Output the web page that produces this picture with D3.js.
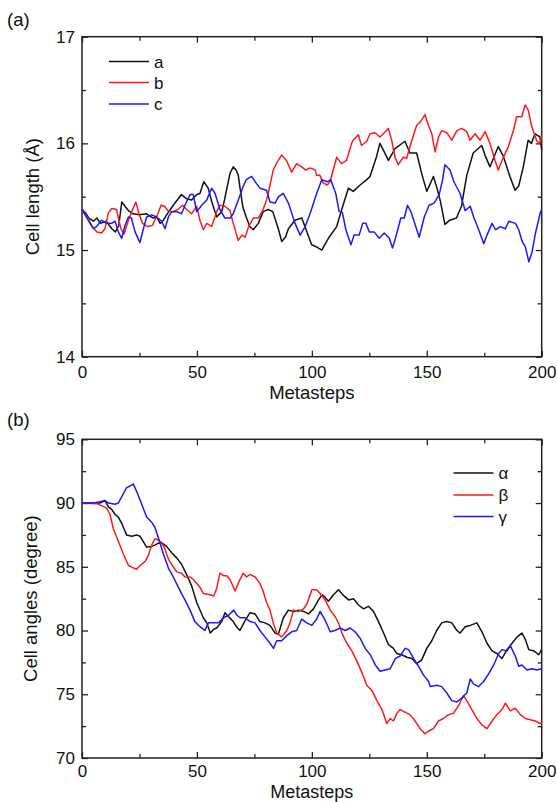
<!DOCTYPE html>
<html>
<head>
<meta charset="utf-8">
<title>Cell parameters vs metasteps</title>
<script src="https://cdn.jsdelivr.net/npm/d3@7"></script>
<style>
    body { margin: 0; background: #fff; }
    svg { font-family: "Liberation Sans", Arial, Helvetica, sans-serif; }
    .tick text { font-size: 17px; fill: #111; }
    .tick line { stroke: #222; stroke-width: 1.3; }
</style>
</head>
<body>
<script>
// metastep / value pairs
var lenA = [[0,15.38],[1.5,15.35],[3,15.3],[5,15.27],[6.5,15.3],[8,15.25],[10.5,15.27],[13,15.2],[14.5,15.17],[16,15.23],[17.3,15.45],[18.7,15.41],[20.2,15.37],[22.2,15.34],[25,15.33],[28,15.34],[31,15.3],[32.5,15.31],[34,15.25],[35.4,15.28],[36.8,15.33],[39.7,15.42],[43.3,15.52],[45.5,15.48],[47.7,15.47],[49.9,15.52],[51.3,15.53],[53,15.64],[54.9,15.58],[56.5,15.45],[58.6,15.31],[60.8,15.36],[62,15.47],[64.4,15.72],[65.8,15.78],[67,15.75],[68,15.7],[68.7,15.59],[70,15.4],[71.6,15.3],[73,15.22],[74.5,15.19],[76.7,15.25],[78.8,15.36],[81,15.38],[83,15.36],[85.4,15.2],[86.9,15.08],[88.5,15.12],[89.8,15.2],[92.7,15.28],[95.6,15.3],[97,15.22],[99.9,15.05],[102,15.03],[104.3,15.0],[107.2,15.11],[110.8,15.22],[113,15.38],[115.9,15.58],[118,15.55],[121,15.61],[123.9,15.66],[125.3,15.69],[128.2,15.88],[129.6,16.0],[131.5,15.92],[133.3,15.84],[136.2,15.95],[140.5,16.02],[142.7,15.91],[145.6,15.91],[148,15.7],[150,15.55],[152.9,15.69],[154.3,15.59],[155.8,15.47],[157.9,15.24],[160,15.28],[162.9,15.3],[165.1,15.41],[167.4,15.7],[170.2,15.91],[173.9,15.98],[175.5,15.88],[177.5,15.78],[181.1,15.97],[183.3,15.88],[186,15.7],[188.4,15.56],[190,15.6],[192,15.78],[194.1,16.03],[195.5,16.0],[197.1,16.09],[199.2,16.06],[200,15.94]];

var lenB = [[0,15.38],[2,15.32],[4.5,15.22],[6.5,15.17],[8.5,15.16],[10,15.2],[11.5,15.35],[13,15.39],[15,15.38],[16.9,15.2],[18.3,15.15],[20.5,15.3],[23.4,15.45],[24.8,15.34],[26.3,15.25],[28.5,15.22],[30.6,15.23],[33,15.34],[34.4,15.42],[35.9,15.41],[37.3,15.37],[39.5,15.36],[41.7,15.38],[43.8,15.42],[45.5,15.38],[47.7,15.34],[49.9,15.41],[51.3,15.28],[52.8,15.19],[54.3,15.25],[56.4,15.22],[58.6,15.36],[60,15.42],[62.2,15.41],[64.4,15.37],[65.8,15.25],[68,15.09],[69.6,15.14],[71,15.12],[72.5,15.22],[74.5,15.3],[76.7,15.3],[78.8,15.38],[80.3,15.47],[81.7,15.6],[83.2,15.75],[84.8,15.82],[86.8,15.89],[89,15.84],[91.2,15.73],[93.4,15.81],[95.6,15.78],[97.4,15.75],[99.2,15.77],[101.4,15.75],[102.1,15.7],[103.5,15.7],[104.9,15.63],[106.7,15.61],[107.9,15.64],[109.3,15.75],[110.8,15.87],[112.9,15.81],[115.1,15.84],[117.3,16.0],[118,16.03],[120.2,16.08],[121.6,15.98],[123.9,16.02],[125.3,16.09],[127.5,16.1],[129.6,16.06],[131.1,16.09],[133.3,16.14],[134.7,16.03],[136.2,15.87],[137.6,15.8],[139.8,15.87],[141.3,15.86],[142.7,15.97],[145.6,16.17],[147.1,16.2],[149.2,16.27],[150.7,16.17],[152.2,16.09],[153.6,15.92],[155.1,16.06],[156.5,16.12],[158.7,16.1],[160.9,16.03],[163.1,16.12],[165.2,16.14],[167.4,16.11],[168.8,16.03],[171,16.09],[173.2,16.03],[175.4,16.11],[177.5,16.0],[179.7,15.84],[181.1,15.75],[183.3,15.87],[185.5,15.97],[187.7,16.12],[189.1,16.25],[191.3,16.25],[192.8,16.36],[194.2,16.31],[195.6,16.16],[197.9,16.02],[199.3,16.0],[200,16.08]];

var lenC = [[0,15.38],[2.7,15.28],[4.9,15.2],[6.4,15.22],[8.5,15.28],[10.7,15.25],[12.9,15.25],[14.4,15.27],[15.8,15.17],[17.3,15.11],[18.7,15.23],[20.2,15.31],[21.5,15.3],[23.1,15.17],[25.2,15.07],[26.6,15.19],[28.1,15.31],[30.3,15.33],[32.5,15.31],[34.7,15.27],[36.1,15.2],[37.6,15.31],[39,15.36],[41.2,15.36],[43.3,15.34],[44.8,15.42],[47,15.52],[48.4,15.52],[49.9,15.36],[52.1,15.42],[54.3,15.47],[56.4,15.58],[57.9,15.53],[60,15.38],[62.2,15.3],[64.4,15.3],[65.8,15.34],[68,15.47],[70.2,15.6],[71.5,15.66],[73.8,15.69],[76,15.62],[77.4,15.58],[80.3,15.56],[81.8,15.45],[84,15.44],[85.5,15.5],[87.6,15.53],[89.8,15.44],[92.7,15.25],[94.9,15.14],[97.1,15.22],[99.2,15.34],[102.1,15.53],[104.3,15.66],[106.7,15.64],[108.2,15.66],[110.4,15.53],[111.9,15.36],[113.3,15.35],[114.8,15.19],[117,15.05],[118.4,15.14],[120.6,15.14],[122.1,15.25],[123.5,15.25],[125,15.17],[127.1,15.17],[129.3,15.11],[131.5,15.16],[133.7,15.11],[135.1,15.02],[136.5,15.12],[138.7,15.3],[140.2,15.3],[141.6,15.42],[143.1,15.36],[145.2,15.22],[146.7,15.12],[148.9,15.31],[151,15.42],[153.2,15.44],[155.4,15.52],[156.9,15.66],[157.9,15.8],[160.1,15.75],[161.8,15.64],[164.5,15.53],[166.7,15.37],[168.9,15.41],[170.4,15.31],[172.6,15.19],[174.8,15.06],[176.2,15.14],[178.4,15.25],[179.9,15.19],[182,15.22],[184.2,15.2],[185.7,15.27],[188.6,15.25],[190,15.19],[191.5,15.08],[192.9,15.03],[194.4,14.89],[195.8,14.98],[197.3,15.16],[199.5,15.36],[200,15.37]];

var angAlpha = [[0,90],[7.8,90],[10,90.2],[11.5,89.7],[12.9,89.5],[14.4,89.1],[15.8,88.9],[17.3,88.4],[19.4,87.5],[21.6,87.4],[23.8,87.5],[25.2,87.4],[26.6,87.0],[28.1,86.55],[30.3,86.6],[31.7,86.7],[33.2,86.85],[34.6,86.9],[36.8,86.6],[39,86.1],[41.2,85.7],[43.3,85.2],[45.5,84.4],[47.7,83.5],[49.9,82.2],[52.8,81.0],[54.3,80.6],[55.8,79.8],[57.3,80.1],[58.6,80.2],[60.8,80.7],[62.2,81.4],[63.7,81.1],[65.8,80.7],[67.2,80.3],[68.7,80.0],[71,80.8],[73.1,81.4],[75.3,81.3],[77.4,80.7],[79.6,80.6],[81.8,80.4],[84,79.8],[85.4,79.7],[87.6,81.0],[89.8,81.6],[92,81.5],[94.2,81.6],[96.4,81.5],[98.5,81.3],[100.7,81.7],[102.9,82.4],[104.4,82.8],[105.8,82.6],[107.2,82.3],[109.4,82.8],[111.6,83.2],[113.5,82.8],[116,82.4],[118.1,82.5],[120.3,82.0],[122.5,81.7],[124.6,81.9],[126.8,81.5],[129,80.7],[131.2,79.8],[133.3,78.9],[135.5,78.6],[136.9,78.2],[139.1,78.1],[141.3,77.9],[143.5,77.8],[145.6,77.4],[147.8,77.7],[150,78.6],[152.2,79.2],[154.3,80.0],[156.5,80.6],[158.7,80.7],[160.9,80.6],[163.1,80.0],[164.5,79.8],[166.7,80.3],[168.9,80.4],[171.8,80.6],[174,79.9],[176.2,79.0],[178.4,78.4],[180.5,78.2],[182.7,77.8],[184.9,78.5],[187.1,79.0],[189.3,79.5],[191.4,79.8],[192.9,79.3],[194.4,78.5],[196.6,78.4],[198.7,78.1],[200,78.5]];

var angBeta = [[0,90],[6.4,89.95],[8.5,89.8],[10.7,89.6],[12.2,89.1],[13.6,88.0],[15.8,87.0],[18,86.0],[20.2,85.1],[22.4,84.9],[23.8,84.8],[25.2,85.1],[27.4,85.4],[28.9,85.9],[30.3,86.7],[31.7,87.2],[33.2,87.1],[34.6,86.9],[36.1,86.4],[37.6,85.6],[39.7,85.0],[41.2,84.6],[43.3,84.5],[44.8,84.2],[47,84.2],[48.4,84.0],[49.9,83.7],[51.3,83.4],[52.8,82.9],[55.8,82.8],[57.3,82.7],[58.6,83.3],[60,84.5],[61.5,84.3],[63,84.3],[64.4,84.0],[66.6,83.1],[68.7,84.0],[70.2,84.5],[71.6,84.2],[73.1,84.4],[75.3,84.2],[77.4,83.7],[78.8,83.1],[80.3,82.2],[81.8,81.6],[83.2,80.6],[84.7,79.8],[86.9,79.5],[89.1,80.0],[90.5,80.6],[92,81.6],[94.2,81.5],[96.4,81.7],[97.9,82.1],[100,83.2],[102.1,83.2],[103.6,82.9],[105.8,82.4],[108,81.6],[110.1,81.1],[111.6,80.6],[113.1,79.8],[115.2,79.0],[117.4,78.4],[119.6,77.6],[121.8,76.7],[123.9,75.7],[126.1,75.3],[128.3,74.5],[130.5,73.8],[132.6,72.7],[134.1,73.1],[135.5,72.9],[137,73.5],[138.4,73.8],[140.5,73.6],[142.7,73.4],[144.9,72.9],[147.1,72.3],[149.2,71.9],[150.7,72.1],[152.9,72.3],[155.1,72.9],[157.2,73.1],[159.4,73.4],[161.6,73.5],[163.8,74.1],[166,74.9],[167.4,74.5],[169.6,73.8],[171.8,73.1],[174,72.6],[176.2,72.3],[178.4,72.9],[180.5,73.4],[182.7,73.8],[184.2,74.3],[186.3,73.7],[188.5,73.9],[190.7,73.4],[192.9,73.1],[195,73.0],[197.2,72.9],[199.4,72.7],[200,72.8]];

var angGamma = [[0,90],[4.9,90],[7.8,90.1],[10,90.2],[11.5,90.0],[14.4,89.9],[15.8,90.0],[17.3,90.5],[19.4,91.2],[21.6,91.4],[22.3,91.5],[23.8,90.9],[26,89.9],[28.1,88.9],[30.3,88.5],[31.7,88.1],[33.2,87.3],[35.4,86.0],[37.6,84.9],[39.7,84.2],[41.9,83.4],[43.3,82.9],[44.8,82.4],[47,81.6],[49.1,80.7],[51.3,80.3],[53.5,80.0],[55,80.6],[57.3,80.6],[59.4,80.6],[61.6,81.0],[63.8,81.2],[66,81.6],[67.4,81.2],[68.8,81.0],[71,81.0],[73.1,80.7],[75.3,80.6],[77.4,80.0],[79.6,79.5],[81.8,79.0],[83.3,78.6],[84.7,79.2],[86.9,79.2],[89.1,79.6],[91.2,79.9],[93.4,80.0],[95.6,80.9],[97.8,80.6],[100,80.4],[102.1,80.9],[103.6,81.5],[105.8,80.8],[108,79.9],[110.1,80.0],[112.3,80.2],[114.5,80.0],[116.7,80.2],[118.8,79.9],[121,79.4],[123.2,78.6],[125.4,78.1],[127.6,77.3],[129.7,76.8],[131.9,76.9],[134.1,77.0],[136.3,77.8],[138.4,78.0],[140.6,78.6],[142.1,78.5],[144.3,77.8],[146.4,77.2],[148.6,76.5],[150.8,76.0],[151.5,75.6],[154.4,75.7],[156.5,75.6],[158.7,75.1],[160.9,74.5],[163.1,74.4],[165.2,74.7],[167.4,75.1],[168.9,76.2],[170.4,75.8],[172.5,75.6],[174.7,76.0],[176.9,76.6],[179.1,77.3],[181.3,78.2],[182.7,78.5],[184.9,78.4],[186.4,78.8],[188.5,78.0],[190,77.2],[191.4,77.3],[193.6,76.9],[195.8,77.0],[198,76.9],[200,77.0]];

var lengthNames = ["a", "b", "c"];
var angleNames = ["\u03b1", "\u03b2", "\u03b3"];
var seriesColors = ["#111111", "#ff1a1a", "#1a1aff"];

var xTicks = [0, 50, 100, 150, 200];
var xMinor = [25, 75, 125, 175];
var lenTicks = [14, 15, 16, 17];
var lenMinor = [14.5, 15.5, 16.5];
var angTicks = [70, 75, 80, 85, 90, 95];
var angMinor = [72.5, 77.5, 82.5, 87.5, 92.5];

var width = 557, height = 802,
    left = 82, right = 541.7;

var svg = d3.select("body").append("svg")
    .attr("width", width)
    .attr("height", height);

var x = d3.scaleLinear().domain([0, 200]).range([left, right]);

drawPanel({
    tag: "(a)", tagY: 26,
    top: 36.7, bottom: 356.7, titleGap: 42, xPad: 9, titleSize: 18.5,
    domain: [14, 17], ticks: lenTicks, minor: lenMinor,
    yTitle: "Cell length (\u00c5)", yTitleX: 33,
    series: [lenA, lenB, lenC], names: lengthNames,
    legendX: 109, legendY: [61.5, 82.5, 104]
});

drawPanel({
    tag: "(b)", tagY: 426,
    top: 439.3, bottom: 758, titleGap: 39.5, xPad: 7, titleSize: 18,
    domain: [70, 95], ticks: angTicks, minor: angMinor,
    yTitle: "Cell angles (degree)", yTitleX: 31,
    series: [angAlpha, angBeta, angGamma], names: angleNames,
    legendX: 453.5, legendY: [473, 495, 516.5]
});

function drawPanel(p) {
    var y = d3.scaleLinear().domain(p.domain).range([p.bottom, p.top]);
    var g = svg.append("g");

    // inward ticks on all four sides
    var axes = [
        {ax: d3.axisBottom(x).tickValues(xTicks).tickFormat(d3.format("d")), t: "translate(0," + p.bottom + ")", minor: d3.axisBottom(x).tickValues(xMinor)},
        {ax: d3.axisTop(x).tickValues(xTicks).tickFormat(""), t: "translate(0," + p.top + ")", minor: d3.axisTop(x).tickValues(xMinor)},
        {ax: d3.axisLeft(y).tickValues(p.ticks).tickFormat(d3.format("d")), t: "translate(" + left + ",0)", minor: d3.axisLeft(y).tickValues(p.minor)},
        {ax: d3.axisRight(y).tickValues(p.ticks).tickFormat(""), t: "translate(" + right + ",0)", minor: d3.axisRight(y).tickValues(p.minor)}
    ];
    axes.forEach(function(a, i) {
        var pad = i === 0 ? p.xPad : 7;
        g.append("g").attr("transform", a.t)
            .call(a.ax.tickSize(-6).tickPadding(pad))
            .call(function(s) { s.select(".domain").remove(); });
        g.append("g").attr("transform", a.t)
            .call(a.minor.tickSize(-4).tickFormat(""))
            .call(function(s) { s.select(".domain").remove(); });
    });

    g.selectAll(".tick text").attr("font-family", null).attr("font-size", null);

    g.append("rect")
        .attr("x", left).attr("y", p.top)
        .attr("width", right - left).attr("height", p.bottom - p.top)
        .attr("fill", "none").attr("stroke", "#222").attr("stroke-width", 1.5);

    var line = d3.line()
        .x(function(d) { return x(d[0]); })
        .y(function(d) { return y(d[1]); });

    g.selectAll("path.series")
        .data(p.series)
      .enter().append("path")
        .attr("class", "series")
        .attr("d", line)
        .attr("fill", "none")
        .attr("stroke", function(d, i) { return seriesColors[i]; })
        .attr("stroke-width", 1.5)
        .attr("stroke-linejoin", "round");

    // legend
    var lg = g.selectAll("g.legend")
        .data(p.names)
      .enter().append("g")
        .attr("class", "legend")
        .attr("transform", function(d, i) { return "translate(" + p.legendX + "," + p.legendY[i] + ")"; });
    lg.append("line")
        .attr("x1", 0).attr("x2", 40)
        .attr("stroke", function(d, i) { return seriesColors[i]; })
        .attr("stroke-width", 1.5);
    lg.append("text")
        .attr("x", 45).attr("y", 6)
        .attr("font-size", 17)
        .attr("fill", "#111")
        .text(function(d) { return d; });

    // titles
    g.append("text")
        .attr("x", (left + right) / 2).attr("y", p.bottom + p.titleGap)
        .attr("text-anchor", "middle")
        .attr("font-size", p.titleSize).attr("fill", "#111")
        .text("Metasteps");

    g.append("text")
        .attr("transform", "translate(" + p.yTitleX + "," + (p.top + p.bottom) / 2 + ") rotate(-90)")
        .attr("text-anchor", "middle")
        .attr("dy", "0.35em")
        .attr("font-size", 18.5).attr("fill", "#111")
        .text(p.yTitle);

    svg.append("text")
        .attr("x", 7).attr("y", p.tagY)
        .attr("font-size", 18.5).attr("fill", "#111")
        .text(p.tag);
}
</script>
</body>
</html>
